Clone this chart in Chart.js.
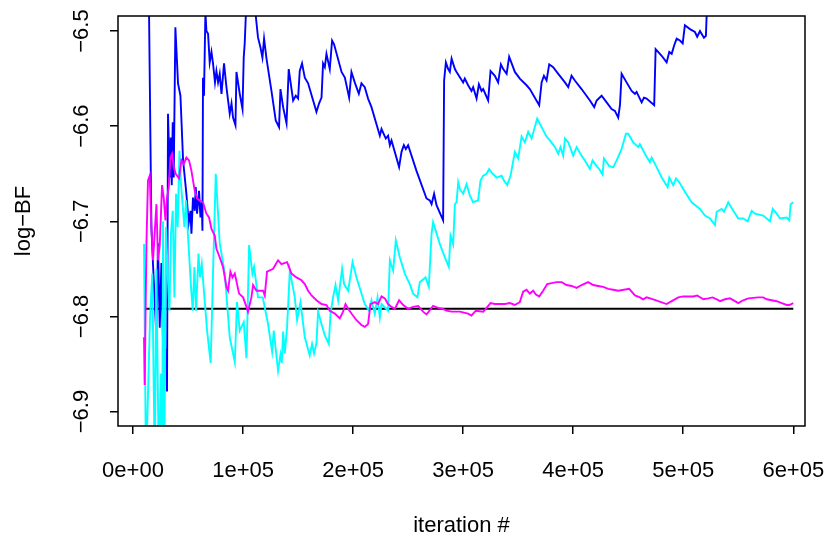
<!DOCTYPE html>
<html>
<head>
<meta charset="utf-8">
<script src="https://cdn.jsdelivr.net/npm/chart.js@4/dist/chart.umd.min.js"></script>
<style>
  html, body { margin: 0; padding: 0; background: #fff; }
  canvas { display: block; }
</style>
</head>
<body>
<canvas id="trace" width="831" height="536"></canvas>
<script>
// iterations are given in thousands
const X_TICKS = [0, 100000, 200000, 300000, 400000, 500000, 600000];
const Y_TICKS = [-6.9, -6.8, -6.7, -6.6, -6.5];
const X_MIN = -13640;
const X_MAX = 610640;
const Y_MIN = -6.9152;
const Y_MAX = -6.4842;

const refIter = [10, 600];
const refVal = [-6.792, -6.792];

const blueIter = [10, 13.8, 16.7, 18.2, 21.3, 22.7, 24.3, 25.8, 27.9, 29.7, 30.9, 31.8, 33.4, 34.3, 35.2, 36.1, 37.0, 38.5, 40.9, 43.1, 45.5, 48.5, 50.6, 52.2, 53.1, 54.5, 56.1, 57.0, 58.2, 60.0, 61.3, 62.5, 63.1, 63.6, 64.5, 65.8, 66.7, 68.2, 69.7, 71.3, 72.7, 74.5, 75.8, 77.3, 78.8, 80.4, 82.7, 84.9, 87.9, 89.5, 90.9, 93.1, 94.0, 97.0, 99.5, 100.6, 101.5, 103, 107, 111, 113.6, 115.8, 117.6, 119.1, 121.3, 125.8, 129.7, 132.7, 134.0, 136.4, 139.5, 141.5, 145.5, 147.9, 150.0, 151.5, 153.6, 156.1, 159.1, 166.7, 169.1, 171.3, 172.7, 174.3, 175.8, 178.8, 180.9, 182.7, 189.5, 192.5, 196.4, 198.5, 201.5, 205.2, 207.6, 210.6, 213.6, 216.7, 224.3, 225.8, 229.7, 231.8, 233.4, 234.9, 241.8, 244.0, 246.1, 247.9, 250.0, 257.6, 266.7, 269.7, 271.3, 273.6, 275.8, 281.8, 282.7, 284.3, 286.4, 287.9, 289.5, 292.5, 294.0, 300.0, 301.5, 304.5, 307.6, 309.1, 312.2, 314.3, 316.7, 318.2, 322.7, 324.9, 328.8, 331.8, 334.3, 336.4, 339.5, 341.8, 347.0, 351.5, 357.6, 360.6, 369.1, 371.3, 373.4, 375.8, 378.2, 381.8, 386.4, 392.5, 395.5, 398.5, 401.5, 407.6, 415.2, 419.1, 421.3, 425.8, 430.4, 434.9, 437.9, 440.9, 442.5, 444.0, 448.5, 453.1, 456.1, 457.6, 462.2, 464.3, 466.7, 473.6, 474.9, 480.4, 484.9, 487.3, 489.5, 491.8, 494.0, 497.0, 499.5, 501.5, 506.1, 510.6, 512.7, 515.2, 518.8, 520.6, 522, 540, 560, 580, 600];
const blueVal = [-6.30, -6.40, -6.706, -6.746, -6.823, -6.723, -6.812, -6.744, -6.864, -6.834, -6.879, -6.587, -6.654, -6.612, -6.662, -6.596, -6.654, -6.496, -6.555, -6.568, -6.636, -6.671, -6.702, -6.689, -6.713, -6.675, -6.689, -6.664, -6.692, -6.668, -6.696, -6.680, -6.710, -6.549, -6.568, -6.480, -6.500, -6.503, -6.533, -6.522, -6.534, -6.554, -6.542, -6.554, -6.545, -6.566, -6.534, -6.559, -6.587, -6.576, -6.591, -6.599, -6.543, -6.566, -6.582, -6.528, -6.513, -6.47, -6.45, -6.478, -6.507, -6.517, -6.528, -6.508, -6.529, -6.563, -6.594, -6.601, -6.561, -6.580, -6.597, -6.540, -6.573, -6.568, -6.571, -6.542, -6.534, -6.549, -6.555, -6.585, -6.576, -6.570, -6.534, -6.538, -6.524, -6.540, -6.510, -6.514, -6.543, -6.549, -6.570, -6.543, -6.554, -6.566, -6.555, -6.559, -6.571, -6.580, -6.610, -6.603, -6.613, -6.610, -6.620, -6.615, -6.643, -6.627, -6.620, -6.624, -6.620, -6.647, -6.676, -6.678, -6.682, -6.671, -6.683, -6.699, -6.552, -6.533, -6.540, -6.543, -6.529, -6.540, -6.543, -6.554, -6.550, -6.557, -6.563, -6.559, -6.571, -6.556, -6.563, -6.561, -6.573, -6.542, -6.547, -6.554, -6.535, -6.540, -6.545, -6.527, -6.543, -6.550, -6.557, -6.561, -6.578, -6.554, -6.547, -6.552, -6.535, -6.538, -6.545, -6.554, -6.559, -6.547, -6.552, -6.561, -6.573, -6.580, -6.573, -6.568, -6.575, -6.582, -6.584, -6.591, -6.578, -6.545, -6.554, -6.563, -6.566, -6.564, -6.575, -6.570, -6.571, -6.578, -6.519, -6.526, -6.533, -6.522, -6.524, -6.515, -6.508, -6.510, -6.513, -6.494, -6.498, -6.501, -6.506, -6.500, -6.507, -6.505, -6.46, -6.45, -6.44, -6.43, -6.42];

const cyanIter = [10, 11.8, 15.5, 17.5, 19.8, 21.2, 23.5, 25.5, 26.5, 27.3, 28.4, 30, 31.5, 33.1, 34.5, 36.1, 37.6, 39.1, 40.6, 42.2, 43.6, 46.7, 48.2, 49.7, 51.3, 52.7, 54.3, 55.8, 57.3, 59.5, 60.9, 62.5, 64.9, 67.3, 70.6, 72.7, 75.2, 78.8, 83.4, 87.9, 92.5, 94.5, 97, 100.6, 103.1, 105.5, 108.5, 110, 113.6, 117.9, 122.7, 126.4, 127.9, 131.8, 134.0, 135.2, 136.4, 137.9, 140, 142.5, 147, 149.1, 152.2, 156.1, 160.6, 162.7, 164.5, 166.7, 168.2, 171.3, 174.3, 177.9, 179.5, 181.8, 184.0, 186.4, 190, 191.8, 195.5, 199.5, 203.1, 207.6, 210.6, 214.5, 216.7, 219.7, 222.2, 224.3, 225.8, 231.8, 233.4, 236.4, 238.8, 242.5, 247, 251.5, 254.5, 258.5, 260.6, 265.8, 268.8, 271.3, 272.7, 278.8, 283.4, 287, 288.5, 290.9, 292.5, 294, 295.5, 297, 300, 303.1, 306.1, 309.1, 313.6, 315.8, 318.2, 321.3, 323.6, 326.7, 330.4, 334.9, 337, 340, 343.1, 347, 350, 353.1, 356.1, 359.1, 362.2, 367.3, 371.3, 375.8, 378.8, 383.4, 386.4, 388.5, 390.9, 392.5, 395.5, 400, 403.1, 407.6, 410.6, 415.2, 417.6, 421.3, 423.6, 426.7, 427.9, 430.4, 432.7, 436.4, 439.5, 444, 447.9, 450, 454.5, 459.1, 460.6, 465.2, 469.7, 471.3, 475.8, 480.4, 485.8, 487.3, 490.9, 493.4, 496.4, 501.5, 507.6, 515.2, 519.7, 524.3, 528.8, 530.4, 534.9, 537, 540.9, 545.5, 550, 554.5, 558.5, 562.2, 565.2, 572.7, 575.8, 578.8, 581.3, 584.9, 587.9, 594, 596.4, 597.6, 600];
const cyanVal = [-6.724, -6.96, -6.80, -6.755, -6.96, -6.75, -6.96, -6.86, -6.96, -6.70, -6.96, -6.706, -6.755, -6.794, -6.713, -6.689, -6.780, -6.671, -6.706, -6.626, -6.661, -6.706, -6.678, -6.710, -6.741, -6.769, -6.794, -6.748, -6.794, -6.734, -6.759, -6.745, -6.780, -6.815, -6.849, -6.755, -6.650, -6.723, -6.755, -6.822, -6.848, -6.785, -6.815, -6.806, -6.844, -6.725, -6.755, -6.748, -6.780, -6.780, -6.808, -6.837, -6.815, -6.857, -6.840, -6.849, -6.816, -6.839, -6.811, -6.752, -6.780, -6.804, -6.785, -6.822, -6.841, -6.829, -6.839, -6.828, -6.795, -6.808, -6.820, -6.829, -6.797, -6.780, -6.767, -6.783, -6.750, -6.766, -6.773, -6.743, -6.759, -6.776, -6.787, -6.794, -6.783, -6.797, -6.780, -6.801, -6.787, -6.794, -6.741, -6.752, -6.720, -6.738, -6.755, -6.766, -6.776, -6.780, -6.764, -6.759, -6.769, -6.713, -6.701, -6.724, -6.738, -6.748, -6.715, -6.724, -6.682, -6.680, -6.659, -6.666, -6.671, -6.661, -6.673, -6.680, -6.678, -6.657, -6.652, -6.650, -6.645, -6.650, -6.654, -6.652, -6.657, -6.662, -6.652, -6.627, -6.634, -6.611, -6.617, -6.606, -6.613, -6.592, -6.601, -6.611, -6.615, -6.622, -6.629, -6.622, -6.631, -6.613, -6.617, -6.631, -6.622, -6.631, -6.636, -6.645, -6.636, -6.642, -6.645, -6.651, -6.634, -6.638, -6.642, -6.643, -6.636, -6.624, -6.608, -6.608, -6.617, -6.622, -6.619, -6.629, -6.638, -6.633, -6.643, -6.654, -6.664, -6.654, -6.662, -6.655, -6.659, -6.669, -6.680, -6.687, -6.694, -6.697, -6.704, -6.690, -6.687, -6.690, -6.680, -6.689, -6.697, -6.697, -6.700, -6.689, -6.692, -6.694, -6.697, -6.700, -6.687, -6.692, -6.697, -6.696, -6.699, -6.682, -6.680];

const magentaIter = [10, 10.6, 12.2, 13.6, 15.2, 16.7, 18.2, 21.3, 22.7, 24.3, 26.4, 27.9, 29.5, 30.9, 32.5, 34, 35.5, 37, 38.8, 41.8, 44, 46.1, 48.5, 50.9, 53.1, 56.1, 58.2, 60.6, 63.6, 66.7, 69.1, 71.3, 74.3, 75.8, 78.8, 81.8, 84.9, 86.4, 88.5, 90.4, 92.5, 96.4, 100, 103.1, 104.5, 107.6, 109.1, 112.2, 118.2, 119.7, 121.8, 127.3, 131.8, 134.9, 140, 144, 148.5, 153.1, 156.1, 159.1, 162.2, 166.7, 171.3, 175.8, 178.8, 183.4, 187.9, 190.9, 193.1, 195.5, 198.5, 203.1, 207.6, 210.6, 213.6, 215.8, 219.7, 222.7, 225.8, 228.8, 231.8, 234.9, 237.9, 241.8, 245.5, 250, 254.5, 259.1, 263.6, 266.7, 272.7, 277.3, 281.8, 284.9, 289.5, 297, 304.5, 307.6, 311.5, 318.2, 321.3, 324.9, 328.8, 337.9, 342.5, 347, 351.5, 354.5, 357.6, 360.6, 363.6, 366.1, 369.1, 372.7, 376.4, 380.4, 384.9, 389.5, 394, 398.5, 403.1, 407.6, 413.6, 418.2, 422.7, 427.3, 431.8, 436.4, 440.9, 450.9, 456.1, 460.6, 463.6, 466.7, 472.7, 477.3, 484.9, 489.5, 495.5, 500, 509.1, 512.7, 518.2, 522.7, 526.7, 530.4, 533.4, 537.9, 542.5, 547, 550, 554.5, 559.1, 568.2, 572.7, 575.8, 580.4, 584.9, 589.5, 594, 596.4, 600];
const magentaVal = [-6.822, -6.872, -6.724, -6.657, -6.652, -6.706, -6.741, -6.682, -6.741, -6.725, -6.662, -6.675, -6.699, -6.675, -6.664, -6.633, -6.629, -6.643, -6.650, -6.655, -6.636, -6.640, -6.633, -6.636, -6.647, -6.668, -6.676, -6.678, -6.680, -6.692, -6.696, -6.708, -6.715, -6.729, -6.738, -6.748, -6.769, -6.773, -6.753, -6.759, -6.755, -6.776, -6.780, -6.790, -6.795, -6.780, -6.767, -6.773, -6.773, -6.778, -6.753, -6.750, -6.741, -6.745, -6.743, -6.755, -6.759, -6.762, -6.766, -6.773, -6.778, -6.783, -6.787, -6.788, -6.794, -6.797, -6.802, -6.795, -6.787, -6.792, -6.797, -6.804, -6.809, -6.811, -6.808, -6.787, -6.785, -6.787, -6.779, -6.781, -6.787, -6.790, -6.792, -6.783, -6.788, -6.792, -6.790, -6.789, -6.795, -6.798, -6.789, -6.791, -6.792, -6.794, -6.795, -6.795, -6.797, -6.799, -6.794, -6.795, -6.791, -6.786, -6.787, -6.787, -6.786, -6.788, -6.785, -6.774, -6.772, -6.776, -6.773, -6.777, -6.779, -6.773, -6.766, -6.765, -6.764, -6.764, -6.767, -6.768, -6.770, -6.767, -6.764, -6.767, -6.768, -6.769, -6.771, -6.772, -6.773, -6.771, -6.778, -6.780, -6.782, -6.780, -6.782, -6.784, -6.787, -6.784, -6.780, -6.779, -6.779, -6.778, -6.782, -6.781, -6.780, -6.782, -6.784, -6.782, -6.781, -6.784, -6.786, -6.783, -6.781, -6.780, -6.780, -6.782, -6.783, -6.784, -6.786, -6.788, -6.788, -6.786];

const FONT = '22px "Liberation Sans", Arial, Helvetica, sans-serif';

const toPoints = (iters, vals) => iters.map((k, i) => ({ x: k * 1000, y: vals[i] }));

const sciLabel = (v) => {
  const [mant, exp] = v.toExponential().split('e');
  const sign = exp[0] === '-' ? '-' : '+';
  const digits = exp.replace(/[+-]/, '').padStart(2, '0');
  return `${mant}e${sign}${digits}`;
};

const series = (label, iters, vals, color) => ({
  label,
  data: toPoints(iters, vals),
  borderColor: color,
  backgroundColor: color,
  borderWidth: 1.9,
  pointRadius: 0,
  tension: 0,
  clip: 0,
});

// R-style box, tick labels and axis titles
const rFrame = {
  id: 'rFrame',
  afterDraw(chart) {
    const { ctx, chartArea: a, scales } = chart;
    ctx.save();
    ctx.strokeStyle = '#000';
    ctx.lineWidth = 1.5;
    ctx.strokeRect(a.left, a.top, a.right - a.left, a.bottom - a.top);

    ctx.fillStyle = '#000';
    ctx.font = FONT;
    ctx.textAlign = 'center';
    ctx.textBaseline = 'alphabetic';
    for (const v of X_TICKS) {
      ctx.fillText(sciLabel(v), scales.x.getPixelForValue(v), 477);
    }
    ctx.fillText('iteration #', (a.left + a.right) / 2, 532);

    for (const v of Y_TICKS) {
      ctx.save();
      ctx.translate(88, scales.y.getPixelForValue(v));
      ctx.rotate(-Math.PI / 2);
      ctx.fillText(v.toFixed(1).replace('-', '\u2212'), 0, 0);
      ctx.restore();
    }
    ctx.save();
    ctx.translate(30, (a.top + a.bottom) / 2);
    ctx.rotate(-Math.PI / 2);
    ctx.fillText('log\u2212BF', 0, 0);
    ctx.restore();
    ctx.restore();
  },
};

const tickGrid = {
  display: true,
  drawOnChartArea: false,
  drawTicks: true,
  tickLength: 8,
  color: '#000',
  tickColor: '#000',
  lineWidth: 1.5,
};

new Chart(document.getElementById('trace'), {
  type: 'line',
  data: {
    datasets: [
      series('magenta', magentaIter, magentaVal, '#ff00ff'),
      series('cyan', cyanIter, cyanVal, '#00ffff'),
      series('blue', blueIter, blueVal, '#0000ff'),
      series('ref', refIter, refVal, '#000000'),
    ],
  },
  options: {
    responsive: false,
    animation: false,
    layout: { padding: { left: 0, right: 26, top: 16, bottom: 0 } },
    plugins: { legend: { display: false }, tooltip: { enabled: false } },
    scales: {
      x: {
        type: 'linear',
        min: X_MIN,
        max: X_MAX,
        afterBuildTicks: (s) => { s.ticks = X_TICKS.map((value) => ({ value })); },
        afterFit: (s) => { s.height = 110; },
        grid: tickGrid,
        border: { display: false },
        ticks: { display: false },
      },
      y: {
        type: 'linear',
        min: Y_MIN,
        max: Y_MAX,
        afterBuildTicks: (s) => { s.ticks = Y_TICKS.map((value) => ({ value })); },
        afterFit: (s) => { s.width = 118; },
        grid: tickGrid,
        border: { display: false },
        ticks: { display: false },
      },
    },
  },
  plugins: [rFrame],
});
</script>
</body>
</html>
